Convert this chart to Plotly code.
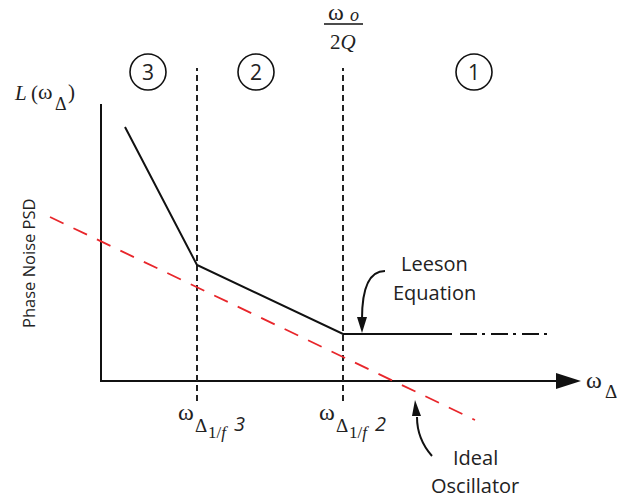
import plotly.graph_objects as go

# Leeson phase-noise model (asymptotic segments), arbitrary units
leeson_x = [24, 96, 242, 351]
leeson_y = [254, 116, 47, 47]
# continuation of the flat floor region
floor_x = [359, 449]
floor_y = [47, 47]
# ideal oscillator slope
ideal_x = [-51, 374]
ideal_y = [164, -39]
# corner frequencies
corner_x = [96, 242]
corner_span = [-20, 313]
# axis extents
yaxis_top = 277
xaxis_end = 455
arrow_tip = 480
# region markers
region_labels = ["3", "2", "1"]
region_x = [47, 155, 373]
region_y = 309

SANS = "Open Sans"
SERIF = "Liberation Serif"

fig = go.Figure()

# axes drawn as lines
fig.add_trace(go.Scatter(x=[0, 0, xaxis_end], y=[yaxis_top, 0, 0], mode="lines",
                         line=dict(color="#111", width=2), hoverinfo="skip"))
# corner-frequency guides
for cx in corner_x:
    fig.add_trace(go.Scatter(x=[cx, cx], y=corner_span, mode="lines",
                             line=dict(color="#222", width=2, dash="6px,4px"), hoverinfo="skip"))
# ideal oscillator (red dashed)
fig.add_trace(go.Scatter(x=ideal_x, y=ideal_y, mode="lines",
                         line=dict(color="#e8262b", width=1.8, dash="15px,11px"), hoverinfo="skip"))
# Leeson curve
fig.add_trace(go.Scatter(x=leeson_x, y=leeson_y, mode="lines",
                         line=dict(color="#111", width=2), hoverinfo="skip"))
fig.add_trace(go.Scatter(x=floor_x, y=floor_y, mode="lines",
                         line=dict(color="#111", width=2, dash="17px,5px,3px,6px"), hoverinfo="skip"))

shapes = []
# x-axis arrowhead
shapes.append(dict(type="path", xref="x", yref="y",
                   path=f"M {xaxis_end} 8 L {arrow_tip} 0 L {xaxis_end} -8 Z",
                   fillcolor="#111", line=dict(width=0)))
# region circles
for rx in region_x:
    shapes.append(dict(type="circle", xref="x", yref="y",
                       x0=rx - 18, x1=rx + 18, y0=region_y - 18, y1=region_y + 18,
                       line=dict(color="#111", width=1.6)))
# fraction bar for w_o / 2Q
shapes.append(dict(type="line", xref="x", yref="y", x0=223, x1=262, y0=357, y1=357,
                   line=dict(color="#111", width=1.6)))
# curved pointer to Leeson curve
shapes.append(dict(type="path", xref="x", yref="y",
                   path="M 284 110 Q 261 110 261 62",
                   line=dict(color="#111", width=2)))
shapes.append(dict(type="path", xref="x", yref="y",
                   path="M 256 64 L 261 48 L 266 64 Z",
                   fillcolor="#111", line=dict(width=0)))
# curved pointer to ideal oscillator
shapes.append(dict(type="path", xref="x", yref="y",
                   path="M 331 -75 Q 316 -58 316 -36",
                   line=dict(color="#111", width=2)))
shapes.append(dict(type="path", xref="x", yref="y",
                   path="M 311 -35 L 314 -19 L 320 -35 Z",
                   fillcolor="#111", line=dict(width=0)))

ann = []


def text(x, y, s, size, family=SANS, xanchor="center", yanchor="middle", angle=0, color="#222"):
    ann.append(dict(x=x, y=y, xref="x", yref="y", text=s, showarrow=False,
                    font=dict(size=size, family=family, color=color),
                    xanchor=xanchor, yanchor=yanchor, textangle=angle))


for lbl, rx in zip(region_labels, region_x):
    text(rx, region_y, lbl, 21)

# w_o / 2Q
text(235, 369, "ω", 24, SERIF)
text(253, 366, "<i>o</i>", 18, SERIF)
text(242, 339, "2<i>Q</i>", 21, SERIF)

# L(w_Delta)
text(-89, 288, "<i>L</i>", 21, SERIF, xanchor="left")
text(-72, 288, "(", 21, SERIF, xanchor="left")
text(-65, 290, "ω", 22, SERIF, xanchor="left")
text(-48, 277, "Δ", 18, SERIF, xanchor="left")
text(-35, 289, ")", 21, SERIF, xanchor="left")

text(-73, 118, "Phase Noise PSD", 16.5, angle=-90)

# horizontal axis label
text(483, 1, "ω", 24, SERIF, xanchor="left")
text(502, -10, "Δ", 19, SERIF, xanchor="left")

# corner labels
for base_x, order in [(75, "3"), (216, "2")]:
    text(base_x, -31, "ω", 24, SERIF, xanchor="left")
    text(base_x + 17, -44, "Δ", 19, SERIF, xanchor="left")
    text(base_x + 30, -51, "1/<i>f</i>", 17, SERIF, xanchor="left")
    text(base_x + 56, -42, "<i>" + order + "</i>", 20, SANS, xanchor="left")

text(333, 118, "Leeson", 20)
text(333, 89, "Equation", 20)
text(374, -76, "Ideal", 20)
text(374, -104, "Oscillator", 20)

fig.update_layout(
    width=621, height=499,
    margin=dict(l=0, r=0, t=0, b=0, pad=0),
    paper_bgcolor="white", plot_bgcolor="white",
    showlegend=False,
    shapes=shapes, annotations=ann,
    xaxis=dict(range=[-101, 520], visible=False, fixedrange=True),
    yaxis=dict(range=[-118, 381], visible=False, fixedrange=True),
)

fig.write_html("out.html")
